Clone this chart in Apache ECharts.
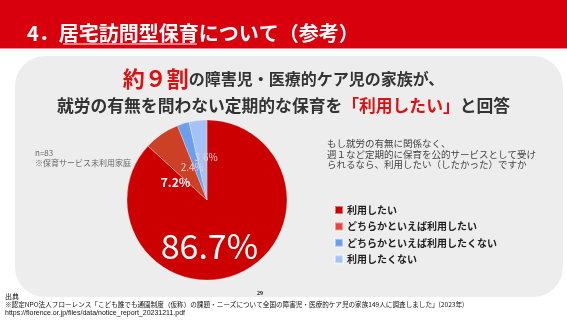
<!DOCTYPE html>
<html><head><meta charset="utf-8">
<script src="https://cdn.jsdelivr.net/npm/echarts@6/dist/echarts.min.js"></script>
<style>html,body{margin:0;padding:0;background:#fff}#c{width:567px;height:321px}</style>
</head><body><div id="c"></div>
<script>
const categories = ['利用したい','どちらかといえば利用したい','どちらかといえば利用したくない','利用したくない'];
const values = [86.7, 7.2, 2.4, 3.6];
const sliceColors = ['#cc0000','#cc4125','#6d9eeb','#a4c2f4'];
const legendColors = ['#cc0000','#e8453c','#6d9eeb','#a4c2f4'];
const FONT = '"Noto Sans CJK JP", "Noto Sans", sans-serif';

const labelStyles = [
  {fontSize:34, color:'#ffffff', fontWeight:'normal'},
  {fontSize:12, color:'#ffffff', fontWeight:'bold'},
  {fontSize:10, color:'#f0cfcf', fontWeight:'normal'},
  {fontSize:10, color:'#f0cfcf', fontWeight:'normal'}
];
const labelShift = [[-15,6.5],[-7,18],[-2,8],[4,0]];

const chart = echarts.init(document.getElementById('c'));
chart.setOption({
  animation:false,
  backgroundColor:'#ffffff',
  graphic:[
    {type:'rect', shape:{x:0,y:0,width:567,height:48}, style:{fill:'#d9000d'}, z:-10},
    {type:'rect', shape:{x:0,y:48,width:567,height:1}, style:{fill:'#f08a8a'}, z:-10},
    {type:'rect', shape:{x:15,y:56,width:548,height:241,r:30}, style:{fill:'#ededed'}, z:-10},
    {type:'line', shape:{x1:63,y1:44,x2:197,y2:44}, style:{stroke:'#ffffff',lineWidth:1}, z:10}
  ],
  title:[
    {text:'4．居宅訪問型保育について（参考）', left:27, top:23, padding:0,
     textStyle:{fontFamily:FONT, fontSize:20, fontWeight:'bold', color:'#ffffff'}},
    {text:'{r|約９割}{b|の障害児・医療的ケア児の家族が、}', left:'center', top:68, padding:0,
     textStyle:{rich:{
       r:{fontFamily:FONT, fontSize:22, fontWeight:'bold', color:'#dd1111'},
       b:{fontFamily:FONT, fontSize:16, fontWeight:'bold', color:'#333333'}}}},
    {text:'{b|就労の有無を問わない定期的な保育を}{r|「利用したい」}{b|と回答}', left:'center', top:97, padding:0,
     textStyle:{rich:{
       r:{fontFamily:FONT, fontSize:16.8, fontWeight:'bold', color:'#dd1111'},
       b:{fontFamily:FONT, fontSize:16.8, fontWeight:'bold', color:'#333333'}}}},
    {text:'n=83\n※保育サービス未利用家庭', left:35, top:148, padding:0,
     textStyle:{fontFamily:FONT, fontSize:8, fontWeight:'normal', color:'#666666', lineHeight:10}},
    {text:'もし就労の有無に関係なく、\n週１など定期的に保育を公的サービスとして受け\nられるなら、利用したい（したかった）ですか', left:327, top:138.5, padding:0,
     textStyle:{fontFamily:FONT, fontSize:9.5, fontWeight:'normal', color:'#444444', lineHeight:10.5}},
    {text:'出典', left:5, top:292.5, padding:0,
     textStyle:{fontFamily:FONT, fontSize:7, fontWeight:'normal', color:'#111111'}},
    {text:'29', left:257, top:290, padding:0,
     textStyle:{fontFamily:'"Liberation Serif", serif', fontSize:6, fontWeight:'bold', color:'#111111'}},
    {text:'※認定NPO法人フローレンス「こども誰でも通園制度（仮称）の課題・ニーズについて全国の障害児・医療的ケア児の家族149人に調査しました」(2023年)', left:5, top:301.5, padding:0,
     textStyle:{fontFamily:FONT, fontSize:6.6, fontWeight:'normal', color:'#111111'}},
    {text:'https://florence.or.jp/files/data/notice_report_20231211.pdf', left:5, top:309.5, padding:0,
     textStyle:{fontFamily:'"Liberation Sans", Arial, sans-serif', fontSize:7, fontWeight:'normal', color:'#111111'}}
  ],
  legend:{
    orient:'vertical', left:334, top:205, itemWidth:8, itemHeight:8, itemGap:6.4, padding:0,
    icon:'rect',
    data: categories.map((n,i)=>({name:n, itemStyle:{color:legendColors[i]}})),
    textStyle:{fontFamily:FONT, fontSize:10, fontWeight:'bold', color:'#222222', lineHeight:10, padding:[0,0,0,-1]}
  },
  series:[{
    type:'pie', center:[207,200], radius:[0,80], startAngle:90, clockwise:true,
    avoidLabelOverlap:false,
    itemStyle:{borderColor:'rgba(255,255,255,0.45)', borderWidth:0.6},
    label:{show:true, position:'inside', formatter:'{c}%', fontFamily:FONT},
    labelLine:{show:false},
    labelLayout:function(p){ const s = labelShift[p.dataIndex]; return {dx:s[0], dy:s[1], hideOverlap:false}; },
    emphasis:{disabled:true},
    data: categories.map((n,i)=>({name:n, value:values[i], itemStyle:{color:sliceColors[i]}, label:labelStyles[i]}))
  }]
});
</script></body></html>
